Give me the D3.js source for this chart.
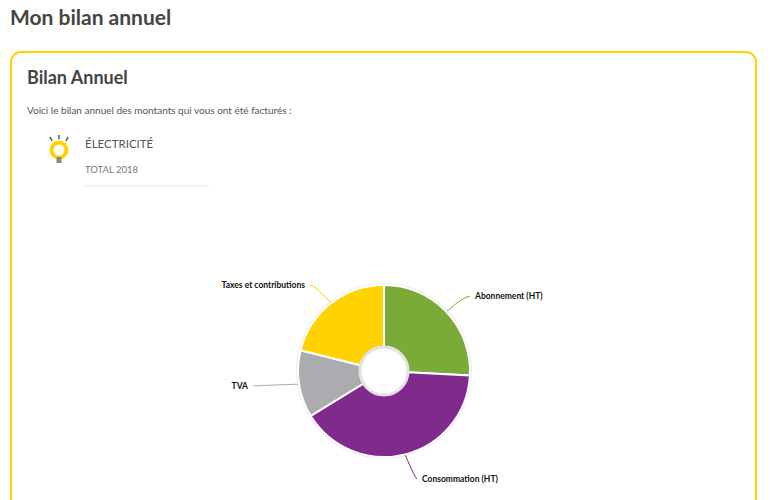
<!DOCTYPE html><html><head><meta charset="utf-8">
<script src="https://cdn.jsdelivr.net/npm/d3@7"></script>
<style>body{margin:0;background:#fff;font-family:Lato,"Open Sans",sans-serif;}</style></head><body>
<svg id="c" width="771" height="500"></svg>
<script>
const categories=["Abonnement (HT)","Consommation (HT)","TVA","Taxes et contributions"];
const values=[25.8,40.4,12.6,21.1];
const colors=["#7aab38","#7f2a8c","#abacb0","#ffd200"];
const svg=d3.select("#c");
svg.append("text").attr("x",10).attr("y",25).attr("font-size",21).attr("font-weight",700).attr("fill","#444").text("Mon bilan annuel");
svg.append("rect").attr("x",11).attr("y",52).attr("width",745).attr("height",470).attr("rx",10).attr("fill","none").attr("stroke","#ffd200").attr("stroke-width",2);
svg.append("text").attr("x",27).attr("y",84).attr("font-size",18).attr("font-weight",700).attr("fill","#444").text("Bilan Annuel");
svg.append("text").attr("x",27).attr("y",114).attr("font-size",10).attr("fill","#555").text("Voici le bilan annuel des montants qui vous ont été facturés :");
// bulb icon
const ic=svg.append("g").attr("transform","translate(59,150)");
ic.append("circle").attr("r",7.5).attr("fill","none").attr("stroke","#ffd200").attr("stroke-width",4);
ic.append("rect").attr("x",-2.5).attr("y",7).attr("width",5).attr("height",6).attr("fill","#888");
[[-9,-13,-7,-9],[0,-15,0,-11],[9,-13,7,-9]].forEach(l=>ic.append("line").attr("x1",l[0]).attr("y1",l[1]).attr("x2",l[2]).attr("y2",l[3]).attr("stroke","#555").attr("stroke-width",1.5));
svg.append("text").attr("x",85).attr("y",148).attr("font-size",11.5).attr("fill","#555").text("ÉLECTRICITÉ");
svg.append("text").attr("x",85).attr("y",173).attr("font-size",9.5).attr("fill","#777").text("TOTAL 2018");
svg.append("line").attr("x1",85).attr("x2",209).attr("y1",186).attr("y2",186).attr("stroke","#e6e6e6");
const cx=384,cy=371,R=86,r=24;
const g=svg.append("g").attr("transform",`translate(${cx},${cy})`);
g.append("circle").attr("r",R+2).attr("fill","#eee");
const pie=d3.pie().sort(null)(values);
const arc=d3.arc().innerRadius(r).outerRadius(R);
g.selectAll("path").data(pie).join("path").attr("d",arc).attr("fill",(d,i)=>colors[i]).attr("stroke","#fff").attr("stroke-width",2);
g.append("circle").attr("r",r).attr("fill","#fff").attr("stroke","#e3e3e3").attr("stroke-width",3);
// label lines
const lab=[{pt:[475,299],a:"start",mid:[463,297]},{pt:[422,482],a:"start",mid:[415,478]},{pt:[248,389],a:"end",mid:[272,385]},{pt:[305,288],a:"end",mid:[315,285]}];
pie.forEach((d,i)=>{
  const ang=(d.startAngle+d.endAngle)/2;
  const sx=cx+Math.sin(ang)*(R+1),sy=cy-Math.cos(ang)*(R+1);
  const L=lab[i];
  svg.append("path").attr("d",`M${sx},${sy}Q${L.mid[0]},${L.mid[1]} ${L.a=="start"?L.pt[0]-5:L.pt[0]+5},${L.pt[1]-3}`).attr("fill","none").attr("stroke",colors[i]).attr("stroke-width",1);
  svg.append("text").attr("x",L.pt[0]).attr("y",L.pt[1]).attr("text-anchor",L.a).attr("font-size",8.5).attr("font-weight",700).attr("fill","#111").text(categories[i]==="TVA"?"TVA":categories[i]);
});
</script></body></html>
